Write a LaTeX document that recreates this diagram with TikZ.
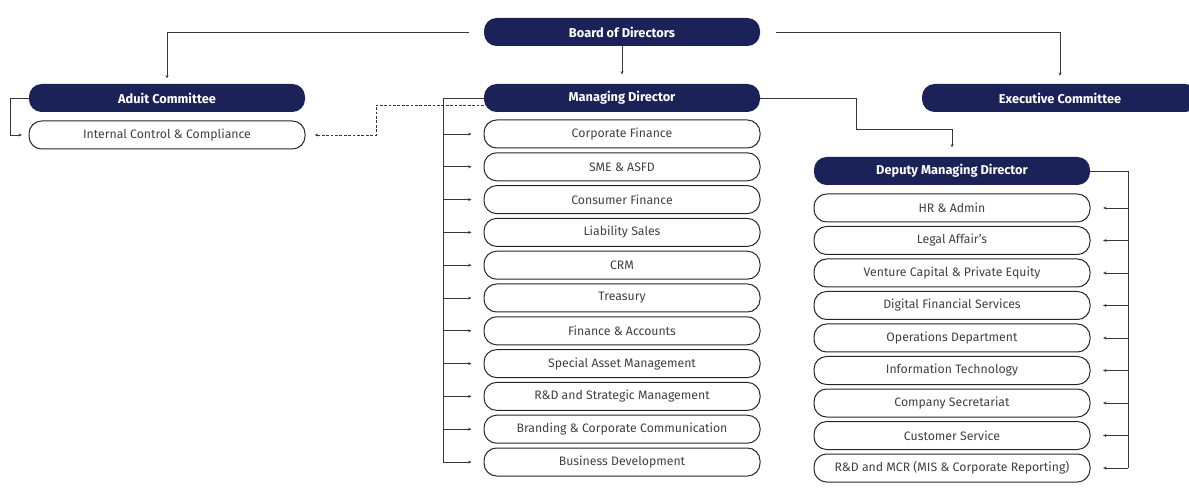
\documentclass[tikz,border=0pt]{standalone}
\usepackage{fontspec}
\setmainfont{Fira Sans}
\usetikzlibrary{arrows.meta,positioning}
\definecolor{navy}{RGB}{27,34,88}
\definecolor{wire}{RGB}{55,55,55}

\begin{document}
\begin{tikzpicture}[x=.75pt,y=-.75pt,
  head/.style={fill=navy,text=white,font=\fontsize{9.6}{11}\selectfont\bfseries,rounded corners=9.5pt,minimum width=207pt,minimum height=21pt,inner sep=0pt},
  unit/.style={draw=black!85,line width=.75pt,text=black!75,font=\fontsize{9.2}{11}\selectfont,rounded corners=9.5pt,minimum width=207pt,minimum height=21pt,inner sep=0pt},
  link/.style={draw=wire,line width=.7pt,-{Stealth[length=2.5pt,width=2.2pt]}}]
\useasboundingbox (0,0) rectangle (1189,488);
\node[head] (board) at (622,32) {Board of Directors};
\node[head] (audit) at (167,98) {Aduit Committee};\node[unit] (icc) at (167,135) {Internal Control \& Compliance};
\node[head] (md) at (622,98) {Managing Director};\node[head] (exec) at (1060,98) {Executive Committee};
\node[head] (dmd) at (952,171) {Deputy Managing Director};
\foreach \t [count=\i] in {Corporate Finance,SME \& ASFD,Consumer Finance,Liability Sales,CRM,Treasury,Finance \& Accounts,
  Special Asset Management,R\&D and Strategic Management,Branding \& Corporate Communication,Business Development}
  \node[unit] (md\i) at (622,{134+32.8*(\i-1)}) {\t};
\foreach \t [count=\i] in {HR \& Admin,Legal Affair's,Venture Capital \& Private Equity,Digital Financial Services,Operations Department,
  Information Technology,Company Secretariat,Customer Service,R\&D and MCR (MIS \& Corporate Reporting)}
  \node[unit] (dmd\i) at (952,{208+32.5*(\i-1)}) {\t};
% board links
\draw[link,shorten <=11pt,shorten >=4pt] (board.west) -| (audit.north);
\draw[link,shorten <=12pt,shorten >=6pt] (board.east) -| (exec.north);
\draw[link,shorten >=7pt] (board.south) -- (md.north);
% audit side
\draw[link,shorten >=5pt] (audit.west) -- ++(-18,0) |- (icc.west);
\coordinate (dash) at (376,105);
\draw[link,dash pattern=on 2pt off 1.3pt] ([yshift=-5.25pt]md.west) -- (dash) |- ([xshift=7pt]icc.east);
% managing director units
\coordinate (mdbus) at (443,0);\draw[draw=wire,line width=.7pt] (md.west) -| (mdbus |- md11.west);
\foreach \i in {1,...,11}{\draw[link,shorten >=9pt] (mdbus |- md\i.west) -- (md\i.west);}
\coordinate (jog) at (856,129);\draw[link,shorten >=7pt] (md.east) -| (jog) -| (dmd.north);
% deputy units
\coordinate (dmdbus) at (1128,0);\draw[draw=wire,line width=.7pt] (dmd.east) -| (dmdbus |- dmd9.east);
\foreach \i in {1,...,9}{\draw[link,shorten >=9.5pt] (dmdbus |- dmd\i.east) -- (dmd\i.east);}
\end{tikzpicture}
\end{document}
